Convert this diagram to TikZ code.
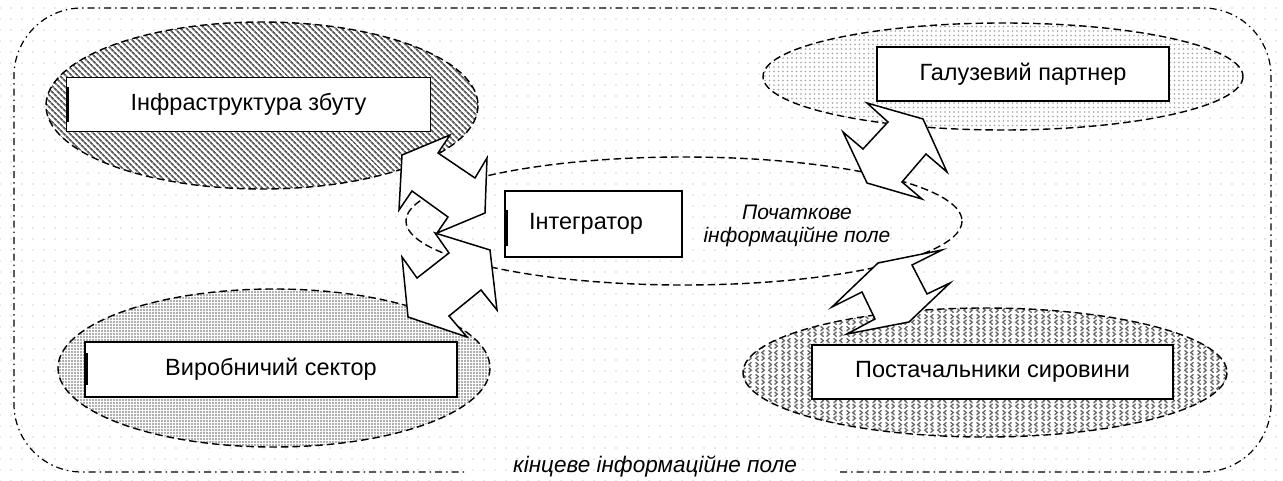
\documentclass[tikz,border=0pt]{standalone}
\usepackage{fontspec}
\setmainfont{Liberation Sans}
\usetikzlibrary{patterns.meta}
\pgfdeclarepattern{
  name=chevrons,
  type=colored,
  bottom left={\pgfpoint{0pt}{0pt}},
  top right={\pgfpoint{13pt}{12pt}},
  tile size={\pgfpoint{13pt}{12pt}},
  code={
    \pgfsetlinewidth{1.5pt}
    \pgfsetstrokecolor{black!58}
    \pgfsetroundcap
    \pgfpathmoveto{\pgfpoint{4.6pt}{5.3pt}}\pgfpathlineto{\pgfpoint{2.0pt}{3pt}}\pgfpathlineto{\pgfpoint{4.6pt}{0.7pt}}
    \pgfpathmoveto{\pgfpoint{8.4pt}{5.3pt}}\pgfpathlineto{\pgfpoint{11.0pt}{3pt}}\pgfpathlineto{\pgfpoint{8.4pt}{0.7pt}}
    \pgfpathmoveto{\pgfpoint{2.0pt}{11.3pt}}\pgfpathlineto{\pgfpoint{4.6pt}{9pt}}\pgfpathlineto{\pgfpoint{2.0pt}{6.7pt}}
    \pgfpathmoveto{\pgfpoint{11.0pt}{11.3pt}}\pgfpathlineto{\pgfpoint{8.4pt}{9pt}}\pgfpathlineto{\pgfpoint{11.0pt}{6.7pt}}
    \pgfusepath{stroke}
  }
}
\begin{document}
\begin{tikzpicture}[x=1pt,y=-1pt,
  fld/.style={draw=black, line width=1.4pt, dash pattern=on 7.5pt off 4pt},
  outerline/.style={draw=black, line width=1.2pt, dash pattern=on 7pt off 4pt on 1.5pt off 4pt},
  labbox/.style={draw=black, line width=1.6pt, fill=white, inner sep=0pt},
  labtxt/.style={inner sep=0pt, font=\fontsize{23.5}{28}\selectfont},
  fldtxt/.style={inner sep=0pt, align=center, font=\fontsize{21}{23}\selectfont\itshape},
  blkarrow/.style={draw=black, fill=white, line width=1.5pt, line join=miter},
  bar/.style={line width=2.8pt}]
% canvas and background texture
\useasboundingbox (0,0) rectangle (1283,481);
\fill[white] (0,0) rectangle (1283,481);
\fill[pattern={Dots[radius=0.8pt,distance=11pt]}, pattern color=black!17] (0,0) rectangle (1283,481);
% outer field (dash-dot rounded frame, open where the label sits)
\draw[outerline, rounded corners=68pt] (840,472) -- (1271,472) -- (1271,8) -- (14,8) -- (14,472) -- (467,472);
% patterned ellipses
\fill[white] (262,105.5) ellipse [x radius=216, y radius=83.5];
\path[fld, pattern={Lines[angle=-45,distance=4pt,line width=1.8pt]}, pattern color=black!65] (262,105.5) ellipse [x radius=216, y radius=83.5];
\fill[white] (1003,76.5) ellipse [x radius=240, y radius=53.5];
\path[fld, pattern={Dots[radius=0.95pt,distance=4.5pt]}, pattern color=black!38] (1003,76.5) ellipse [x radius=240, y radius=53.5];
\fill[white] (274,368) ellipse [x radius=216, y radius=79];
\path[fld, pattern={Dots[radius=1.05pt,distance=3pt]}, pattern color=black!42] (274,368) ellipse [x radius=216, y radius=79];
\fill[white] (985,372.5) ellipse [x radius=242, y radius=64.5];
\path[fld, pattern=chevrons] (985,372.5) ellipse [x radius=242, y radius=64.5];
% initial field
\draw[fld] (684,221) ellipse [x radius=278, y radius=64];
% label boxes
\node[labbox, minimum width=364pt, minimum height=54pt] (infra) at (248.5,104.7) {};
\node[labtxt] (infratxt) at (infra) {Інфраструктура збуту};
\draw[bar] (68,87) -- (68,122);
\node[labbox, minimum width=177pt, minimum height=66pt] (integ) at (593.5,224) {};
\node[labtxt] (integtxt) at (586,224) {Інтегратор};
\draw[bar] (506.5,210) -- (506.5,246);
\node[labbox, minimum width=292pt, minimum height=54pt] (galuz) at (1023,74) {};
\node[labtxt] (galuztxt) at (galuz) {Галузевий партнер};
\node[labbox, minimum width=372pt, minimum height=55pt] (vyrob) at (271,369.5) {};
\node[labtxt] (vyrobtxt) at (vyrob) {Виробничий сектор};
\draw[bar] (86.5,353) -- (86.5,385);
\node[labbox, minimum width=361pt, minimum height=54pt] (post) at (992.5,372) {};
\node[labtxt] (posttxt) at (post) {Постачальники сировини};
% field labels
\node[fldtxt] (initfld) at (797,226) {Початкове\\інформаційне поле};
\node[fldtxt, anchor=base, font=\fontsize{22.5}{25}\selectfont\itshape] (finfld) at (655,472) {кінцеве інформаційне поле};
% block double arrows
\draw[blkarrow] (450,135) -- (438,153) -- (475,178) -- (487,158) -- (485,213) -- (437,233) -- (448,217) -- (412,191) -- (399,210) -- (402,155) -- cycle;
\draw[blkarrow] (435,233) -- (449,253) -- (417,278) -- (402,257) -- (408,317) -- (467,337) -- (449,316) -- (481,290) -- (497,310) -- (490,250) -- cycle;
\draw[blkarrow] (867,103) -- (888,122) -- (863,149) -- (843,132) -- (867,183) -- (922,199) -- (902,182) -- (926,154) -- (947,172) -- (923,119) -- cycle;
\draw[blkarrow] (878,263) -- (942,250) -- (912,265) -- (927,294) -- (950,283) -- (909,322) -- (847,334) -- (875,319) -- (862,292) -- (832,307) -- cycle;
\end{tikzpicture}
\end{document}
